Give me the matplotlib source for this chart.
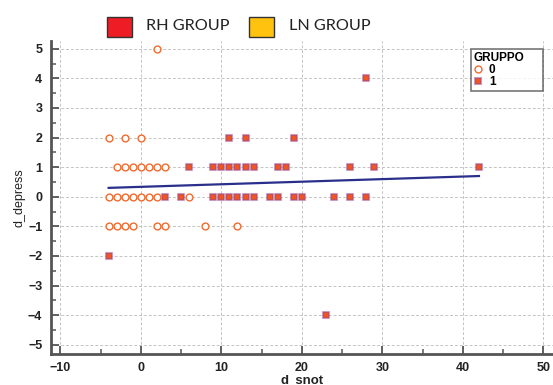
import matplotlib
matplotlib.use("Agg")
import matplotlib.pyplot as plt
from matplotlib.patches import Rectangle
from matplotlib.lines import Line2D

# ---- data ----
g0_x = [2, -4, -2, 0, -3, -2, -1, 0, 1, 2, 3, -4, -3, -2, -1, 0, 1, 2, 6,
        -4, -3, -2, -1, 2, 3, 8, 12]
g0_y = [5, 2, 2, 2, 1, 1, 1, 1, 1, 1, 1, 0, 0, 0, 0, 0, 0, 0, 0,
        -1, -1, -1, -1, -1, -1, -1, -1]

g1_x = [28, 11, 13, 19,
        6, 9, 10, 11, 12, 13, 14, 17, 18, 26, 29, 42,
        3, 5, 9, 10, 11, 12, 13, 14, 16, 17, 19, 20, 24, 26, 28,
        -4, 23]
g1_y = [4, 2, 2, 2,
        1, 1, 1, 1, 1, 1, 1, 1, 1, 1, 1, 1,
        0, 0, 0, 0, 0, 0, 0, 0, 0, 0, 0, 0, 0, 0, 0,
        -2, -4]

fit_x = [-4, 42]
fit_y = [0.30, 0.70]

x_ticks = [-10, 0, 10, 20, 30, 40, 50]
y_ticks = [-5, -4, -3, -2, -1, 0, 1, 2, 3, 4, 5]
group_labels = ["RH GROUP", "LN GROUP"]
group_colors = ["#EE1C25", "#FFC20E"]

# ---- figure ----
W, H = 553, 385
fig = plt.figure(figsize=(W / 100, H / 100), dpi=100)
ax = fig.add_axes([50.7 / W, 1 - 354 / H, 1 - 50.7 / W, (354 - 41) / H])

circ_color = "#F26B2E"
sq_face = "#F2561D"
sq_edge = (0.62, 0.29, 0.55, 0.55)

ax.plot(fit_x, fit_y, color="#2B2F8C", lw=1.6, zorder=2)
ax.scatter(g0_x, g0_y, s=24, marker="o", facecolors="white",
           edgecolors=circ_color, linewidths=1.0, zorder=3)
ax.scatter(g1_x, g1_y, s=20, marker="s", facecolors=sq_face,
           edgecolors=sq_edge, linewidths=1.5, zorder=3)

ax.set_xlim(-11.2, 51.2)
ax.set_ylim(-5.31, 5.26)
ax.set_xticks(x_ticks)
ax.set_yticks(y_ticks)
ax.set_xticks([-5, 5, 15, 25, 35, 45], minor=True)
ax.set_yticks([v + 0.5 for v in y_ticks[:-1]], minor=True)

ax.grid(True, which="major", color="#C4C4C4", linestyle=(0, (3, 2)), lw=0.7)
ax.set_axisbelow(True)

for s in ["top", "right"]:
    ax.spines[s].set_visible(False)
for s in ["left", "bottom"]:
    ax.spines[s].set_color("#555555")
    ax.spines[s].set_linewidth(2.0)

ax.tick_params(axis="both", which="major", direction="in", length=6,
               width=1.3, color="#555555", labelsize=9, pad=6)
ax.tick_params(axis="both", which="minor", direction="in", length=3.5,
               width=1.1, color="#555555")
for lab in ax.get_xticklabels() + ax.get_yticklabels():
    lab.set_fontweight("bold")
    lab.set_fontfamily("Liberation Sans")
    lab.set_color("#222222")

ax.set_xlabel("d_snot", fontsize=9.5, fontweight="bold",
              fontfamily="Liberation Sans", labelpad=0, color="#222222")
ax.set_ylabel("d_depress", fontsize=9, fontfamily="Liberation Sans",
              labelpad=2, color="#222222")

# GRUPPO legend
handles = [
    Line2D([], [], marker="o", linestyle="none", markersize=5,
           markerfacecolor="white", markeredgecolor=circ_color, markeredgewidth=1.0),
    Line2D([], [], marker="s", linestyle="none", markersize=4.6,
           markerfacecolor=sq_face, markeredgecolor=sq_edge,
           markeredgewidth=1.5),
]
ax_w = W - 50.7
ax_h = 354 - 41
x0 = (470.7 - 50.7) / ax_w
y1 = 1 - (49 - 41) / ax_h
wdt = (543.3 - 470.7) / ax_w
leg = ax.legend(handles, ["0", "1"], title="GRUPPO", loc="upper left",
                bbox_to_anchor=(x0, y1 - 0.001, wdt, 0.001), mode="expand",
                borderaxespad=0, frameon=True, fancybox=False,
                prop={"family": "Liberation Sans", "weight": "bold", "size": 8.5},
                handlelength=0.8, handletextpad=0.5, labelspacing=0.0,
                borderpad=0.25, alignment="left")
leg.get_title().set_fontweight("bold")
leg.get_title().set_fontfamily("Liberation Sans")
leg.get_title().set_fontsize(8.5)
fr = leg.get_frame()
fr.set_edgecolor("#555555")
fr.set_linewidth(1.2)

# top group legend
box_x = [107, 249]
text_x = [146, 289]
for bx, tx, lab, col in zip(box_x, text_x, group_labels, group_colors):
    fig.patches.append(Rectangle((bx / W, 1 - 36.7 / H), 24.5 / W, 19.7 / H,
                                 transform=fig.transFigure, facecolor=col,
                                 edgecolor="#333333", lw=1.0))
    fig.text(tx / W, 1 - 26.5 / H, lab, fontsize=11.7, fontfamily="Lato",
             va="center", ha="left", color="#222222")

fig.savefig("out.png", dpi=100)
